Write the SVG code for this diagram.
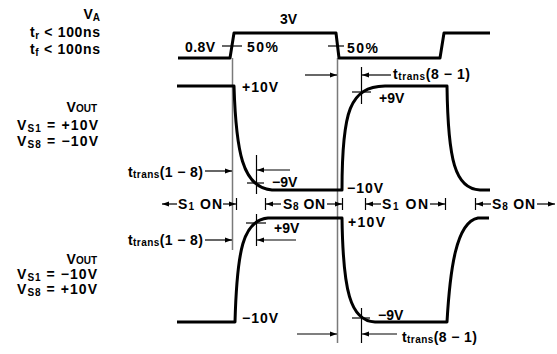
<svg xmlns="http://www.w3.org/2000/svg" width="557" height="354" viewBox="0 0 557 354">
<defs>
<marker id="ah" markerUnits="userSpaceOnUse" markerWidth="8" markerHeight="6" refX="7" refY="3" orient="auto">
<path d="M0,0.5 L7,3 L0,5.5 z" fill="#000"/>
</marker>
<style>
.w{fill:none;stroke:#000;stroke-width:3;stroke-linejoin:round;stroke-linecap:butt}
.g{fill:none;stroke:#7a7a7a;stroke-width:1.5}
.a{fill:none;stroke:#000;stroke-width:1.2}
.ar{fill:none;stroke:#000;stroke-width:1.2;marker-end:url(#ah)}
text{font-family:"Liberation Sans",Arial,sans-serif;font-weight:bold;font-size:14px;fill:#000}
.s{font-size:10px}
</style>
</defs>
<rect width="557" height="354" fill="#fff"/>

<g id="labels-va">
<text x="100" y="19" text-anchor="end">V<tspan class="s" dy="2">A</tspan></text>
<text x="30" y="37" textLength="70">t<tspan class="s" dy="2">r</tspan><tspan dy="-2"> &lt; 100ns</tspan></text>
<text x="30" y="54" textLength="70">t<tspan class="s" dy="2">f</tspan><tspan dy="-2"> &lt; 100ns</tspan></text>
</g>
<g id="labels-vout1">
<text x="97" y="112" text-anchor="end">V<tspan class="s">OUT</tspan></text>
<text x="17" y="130" textLength="81">V<tspan class="s" dy="2">S1</tspan><tspan dy="-2"> = +10V</tspan></text>
<text x="17" y="146" textLength="81">V<tspan class="s" dy="2">S8</tspan><tspan dy="-2"> = −10V</tspan></text>
</g>
<g id="labels-vout2">
<text x="97" y="264" text-anchor="end">V<tspan class="s">OUT</tspan></text>
<text x="17" y="279" textLength="80">V<tspan class="s" dy="1.5">S1</tspan><tspan dy="-1.5"> = −10V</tspan></text>
<text x="17" y="294" textLength="80">V<tspan class="s" dy="1.5">S8</tspan><tspan dy="-1.5"> = +10V</tspan></text>
</g>

<g id="guides">
<line class="g" x1="232.5" y1="58" x2="232.5" y2="250"/>
<line class="g" x1="337.5" y1="58" x2="337.5" y2="343"/>
</g>

<g id="va-waveform">
<path class="w" d="M178,58 L230,58 L234,33 L336,33 L339,58 L440,58 L444,33 L490,33"/>
<line class="a" x1="222" y1="46" x2="242" y2="46"/>
<line class="a" x1="328" y1="46" x2="344" y2="46"/>
<text x="280" y="24">3V</text>
<text x="185" y="52" textLength="30">0.8V</text>
<text x="247" y="52" textLength="31">50%</text>
<text x="347" y="53" textLength="31">50%</text>
</g>

<g id="vout1-waveform">
<path class="w" d="M177,86 L234,86 C236,150 242,188 272,190 L342,190 C342,110 350,87 385,86 L447,86 C448,160 455,189 480,190 L490,190"/>
<text x="242" y="92" textLength="36">+10V</text>
<text x="347" y="193" textLength="36">−10V</text>
<text x="272" y="187">−9V</text>
<text x="379" y="103">+9V</text>
<line class="a" x1="247" y1="183" x2="264" y2="183"/>
<line class="a" x1="352" y1="92" x2="371" y2="92"/>
</g>

<g id="vout2-waveform">
<path class="w" d="M177,322 L235,322 C237,250 243,220 268,218 L342,218 C343,290 350,321 375,322 L447,322 C450,270 456,222 478,218 L489,218"/>
<text x="242" y="323" textLength="36">−10V</text>
<text x="348" y="227" textLength="37">+10V</text>
<text x="274" y="233">+9V</text>
<text x="378" y="320">−9V</text>
<line class="a" x1="246" y1="223" x2="266" y2="223"/>
<line class="a" x1="352" y1="318" x2="370" y2="318"/>
</g>

<g id="connectors">
<text x="128" y="177" textLength="75">t<tspan class="s" dy="1">trans</tspan><tspan dy="-1">(1 − 8)</tspan></text>
<line class="ar" x1="205" y1="171" x2="232" y2="171"/>
<line class="a" x1="256.5" y1="155" x2="256.5" y2="194"/>
<line class="ar" x1="290" y1="170" x2="257" y2="170"/>
<text x="393" y="79" textLength="77">t<tspan class="s" dy="1">trans</tspan><tspan dy="-1">(8 − 1)</tspan></text>
<line class="ar" x1="305" y1="75" x2="337" y2="75"/>
<line class="a" x1="361.5" y1="67" x2="361.5" y2="104"/>
<line class="ar" x1="391" y1="75" x2="362" y2="75"/>
<text x="128" y="245" textLength="75">t<tspan class="s" dy="1">trans</tspan><tspan dy="-1">(1 − 8)</tspan></text>
<line class="ar" x1="205" y1="240" x2="232" y2="240"/>
<line class="a" x1="256.5" y1="214" x2="256.5" y2="246"/>
<line class="ar" x1="296" y1="240" x2="257" y2="240"/>
<text x="402" y="342" textLength="75">t<tspan class="s" dy="1">trans</tspan><tspan dy="-1">(8 − 1)</tspan></text>
<line class="ar" x1="297" y1="334" x2="337" y2="334"/>
<line class="a" x1="361.5" y1="308" x2="361.5" y2="343"/>
<line class="ar" x1="397" y1="334" x2="362" y2="334"/>
</g>

<g id="switch-states">
<line class="ar" x1="177" y1="204" x2="162" y2="204"/>
<text x="178" y="209" textLength="44">S<tspan class="s" dy="1">1</tspan><tspan dy="-1"> ON</tspan></text>
<line class="ar" x1="223" y1="204" x2="236" y2="204"/>
<line class="a" x1="236.5" y1="198" x2="236.5" y2="210"/>

<line class="a" x1="265.5" y1="198" x2="265.5" y2="210"/>
<line class="ar" x1="281" y1="204" x2="266" y2="204"/>
<text x="283" y="209" textLength="42">S<tspan class="s" dy="1">8</tspan><tspan dy="-1"> ON</tspan></text>
<line class="ar" x1="327" y1="204" x2="342" y2="204"/>
<line class="a" x1="342.5" y1="198" x2="342.5" y2="210"/>

<line class="a" x1="365.5" y1="198" x2="365.5" y2="210"/>
<line class="ar" x1="381" y1="204" x2="366" y2="204"/>
<text x="382" y="209" textLength="46">S<tspan class="s" dy="1">1</tspan><tspan dy="-1"> ON</tspan></text>
<line class="ar" x1="430" y1="204" x2="445" y2="204"/>
<line class="a" x1="445.5" y1="198" x2="445.5" y2="210"/>

<line class="a" x1="475.5" y1="198" x2="475.5" y2="210"/>
<line class="ar" x1="491" y1="204" x2="476" y2="204"/>
<text x="492" y="209" textLength="43">S<tspan class="s" dy="1">8</tspan><tspan dy="-1"> ON</tspan></text>
<line class="ar" x1="537" y1="204" x2="555" y2="204"/>
</g>
</svg>
